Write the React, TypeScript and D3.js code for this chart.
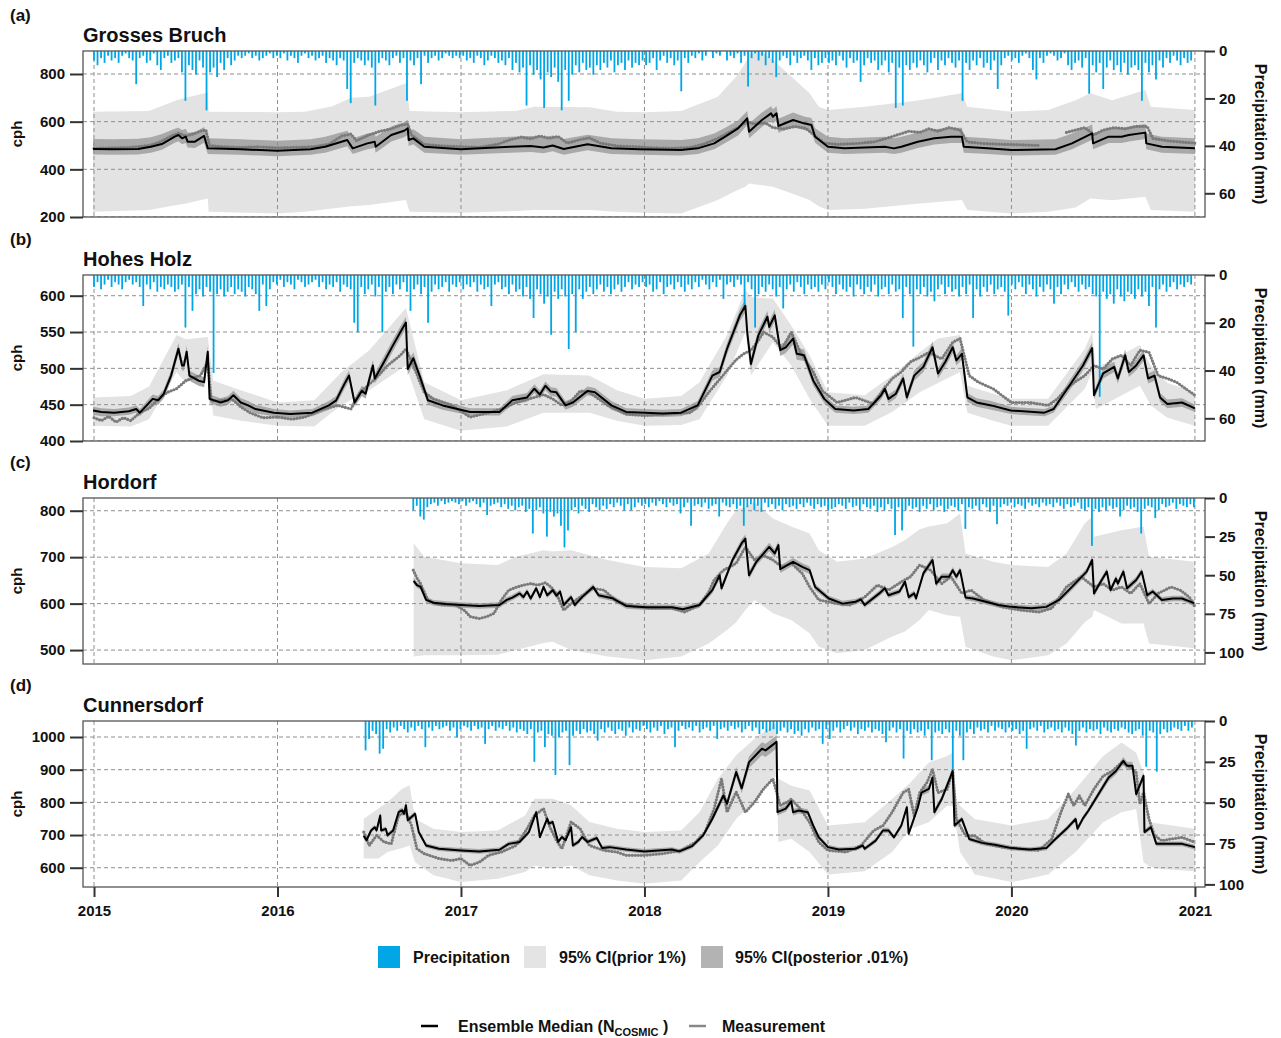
import { useEffect, useRef } from 'react';
import * as d3 from 'd3';

const YEARS = [2015, 2016, 2017, 2018, 2019, 2020, 2021];
const RAIN_STEP = 7 / 365.25; // one precipitation bar per week

// ---------- (a) Grosses Bruch ----------
const gbRainStart = 2015.0;
const gbRain = [
  4, 6, 3, 5, 2, 4, 3, 5, 2, 1, 3, 4, 14,
  3, 2, 5, 4, 1, 6, 8, 3, 2, 5, 4, 3, 9,
  21, 6, 8, 10, 4, 7, 25, 9, 7, 11, 5, 8, 3,
  6, 4, 2, 3, 2, 1, 3, 2, 4, 3, 2, 1, 3,
  2, 3, 1, 4, 2, 3, 5, 2, 1, 3, 2, 4, 3,
  2, 5, 3, 4, 6, 3, 4, 16, 22, 5, 3, 4, 6,
  4, 7, 23, 5, 3, 4, 6, 3, 2, 5, 3, 21, 4,
  6, 3, 14, 2, 5, 3, 2, 4, 3, 1, 2, 3, 2,
  3, 2, 4, 3, 5, 2, 3, 6, 4, 2, 3, 5, 4,
  6, 3, 8, 5, 9, 7, 23, 6, 10, 8, 12, 24, 9,
  11, 7, 13, 25, 8, 21, 10, 6, 9, 5, 8, 7, 10,
  6, 8, 5, 7, 4, 9, 6, 5, 8, 4, 7, 5, 6,
  4, 6, 5, 3, 8, 4, 2, 5, 3, 6, 4, 17, 3,
  5, 2, 3, 1, 4, 2, 0, 3, 1, 2, 0, 4, 2,
  3, 1, 5, 2, 15, 3, 1, 4, 2, 6, 3, 5, 11,
  4, 2, 3, 6, 2, 5, 3, 2, 4, 8, 3, 6, 5,
  3, 5, 4, 6, 2, 4, 7, 3, 5, 4, 13, 6, 3,
  5, 4, 8, 6, 4, 9, 5, 24, 7, 23, 6, 8, 5,
  7, 4, 6, 9, 5, 3, 8, 4, 6, 3, 5, 7, 4,
  21, 5, 8, 4, 6, 3, 7, 5, 8, 4, 16, 6, 3,
  2, 4, 3, 5, 2, 1, 3, 8, 12, 3, 5, 2, 1,
  2, 4, 3, 1, 6, 8, 5, 4, 7, 3, 18, 6, 9,
  5, 16, 7, 4, 8, 6, 9, 5, 10, 7, 6, 8, 21,
  5, 9, 6, 12, 4, 7, 3, 5, 2, 4, 6, 3, 5,
  4,
];
// [year, lower, upper] of the prior 95% CI
const gbPrior = [
  [2014.995, 222, 642], [2015.3, 229, 645], [2015.45, 250, 690], [2015.5, 257, 700],
  [2015.62, 278, 722], [2015.625, 222, 642], [2016.0, 215, 640], [2016.15, 222, 642],
  [2016.3, 236, 665], [2016.4, 245, 700], [2016.5, 250, 705], [2016.7, 271, 761],
  [2016.72, 222, 645], [2017.0, 218, 640], [2017.3, 225, 645], [2017.4, 229, 663],
  [2017.7, 229, 660], [2017.85, 222, 642], [2018.0, 218, 640], [2018.2, 215, 645],
  [2018.4, 271, 705], [2018.5, 310, 789], [2018.55, 327, 845], [2018.57, 341, 880],
  [2018.62, 335, 900], [2018.7, 327, 860], [2018.8, 300, 789], [2018.9, 271, 719],
  [2018.95, 245, 663], [2019.0, 229, 649], [2019.2, 235, 663], [2019.5, 257, 690],
  [2019.73, 271, 719], [2019.76, 229, 663], [2020.0, 215, 642], [2020.2, 222, 649],
  [2020.35, 240, 690], [2020.43, 278, 719], [2020.55, 270, 690], [2020.73, 285, 733],
  [2020.76, 229, 663], [2021.0, 222, 649],
];
// [year, posterior lower, ensemble median, posterior upper]
const gbEnsemble = [
  [2014.995, 462, 485, 527], [2015.1, 461, 484, 526], [2015.24, 462, 485, 528],
  [2015.31, 470, 495, 535], [2015.37, 482, 506, 548], [2015.44, 512, 537, 570],
  [2015.46, 518, 544, 575], [2015.48, 505, 530, 565], [2015.5, 510, 537, 570],
  [2015.51, 492, 516, 555], [2015.55, 490, 516, 556], [2015.6, 512, 540, 578],
  [2015.62, 464, 488, 530], [2015.8, 461, 484, 526], [2016.0, 455, 478, 520],
  [2016.18, 461, 484, 526], [2016.26, 470, 495, 537], [2016.38, 497, 523, 562],
  [2016.41, 464, 488, 530], [2016.49, 484, 509, 550], [2016.53, 490, 516, 555],
  [2016.535, 470, 495, 537], [2016.62, 517, 544, 580], [2016.69, 535, 562, 598],
  [2016.71, 545, 572, 608], [2016.715, 498, 523, 562], [2016.74, 505, 530, 568],
  [2016.8, 470, 495, 537], [2017.0, 461, 484, 526], [2017.27, 470, 495, 537],
  [2017.38, 473, 498, 540], [2017.45, 468, 492, 535], [2017.5, 476, 500, 542],
  [2017.56, 461, 485, 527], [2017.69, 480, 505, 545], [2017.82, 464, 488, 530],
  [2017.97, 461, 484, 526], [2018.2, 458, 481, 523], [2018.29, 464, 488, 530],
  [2018.38, 484, 509, 550], [2018.44, 510, 537, 575], [2018.51, 542, 572, 605],
  [2018.56, 585, 614, 645], [2018.57, 530, 558, 592], [2018.64, 578, 607, 638],
  [2018.69, 605, 635, 665], [2018.7, 592, 621, 652], [2018.72, 605, 635, 665],
  [2018.73, 554, 582, 612], [2018.81, 578, 607, 638], [2018.87, 565, 593, 622],
  [2018.91, 558, 586, 615], [2018.93, 512, 537, 572], [2019.0, 470, 495, 537],
  [2019.09, 464, 488, 530], [2019.31, 470, 495, 537], [2019.36, 464, 488, 530],
  [2019.4, 470, 495, 537], [2019.49, 490, 516, 555], [2019.58, 504, 530, 568],
  [2019.67, 511, 537, 575], [2019.73, 511, 537, 575], [2019.74, 470, 495, 537],
  [2019.87, 464, 488, 530], [2020.0, 458, 481, 523], [2020.24, 461, 484, 526],
  [2020.33, 484, 509, 550], [2020.44, 524, 551, 588], [2020.445, 484, 509, 550],
  [2020.53, 511, 537, 575], [2020.6, 511, 537, 575], [2020.64, 517, 544, 580],
  [2020.73, 527, 554, 590], [2020.735, 484, 509, 550], [2020.82, 470, 495, 537],
  [2021.0, 464, 488, 530],
];
const gbMeasured = [
  [2015.0, 488], [2015.1, 490], [2015.2, 492], [2015.3, 500], [2015.36, 515], [2015.42, 540],
  [2015.46, 552], [2015.5, 540], [2015.54, 548], [2015.58, 560], [2015.61, 565], [2015.63, 500],
  [2015.7, 495], [2015.8, 492], [2015.9, 494], [2016.0, 490], [2016.1, 492], [2016.2, 495],
  [2016.28, 505], [2016.35, 540], [2016.4, 548], [2016.43, 520], [2016.5, 545], [2016.56, 560],
  [2016.62, 570], [2016.67, 585], [2016.71, 590], [2016.73, 545], [2016.8, 505], [2016.9, 498],
  [2017.0, 495], [2017.1, 492], [2017.2, 505], [2017.27, 525], [2017.33, 535], [2017.38, 528],
  [2017.43, 540], [2017.48, 530], [2017.53, 538], [2017.58, 510], [2017.65, 525], [2017.7, 532],
  [2017.76, 510], [2017.85, 498], [2017.95, 495], [2018.05, 490], [2018.15, 488], [2018.25, 492],
  [2018.32, 505], [2018.4, 530], [2018.46, 555], [2018.52, 580], [2018.56, 600], [2018.6, 590],
  [2018.66, 595], [2018.7, 575], [2018.76, 570], [2018.82, 580], [2018.88, 572], [2018.93, 540],
  [2018.98, 510], [2019.05, 505], [2019.15, 508], [2019.25, 515], [2019.32, 530], [2019.38, 545],
  [2019.44, 560], [2019.5, 555], [2019.55, 570], [2019.6, 560], [2019.66, 575], [2019.72, 565],
  [2019.76, 515], [2019.85, 508], [2019.95, 505], [2020.05, 503], [2020.15, 500], [2020.22, null],
  [2020.3, 555], [2020.35, 565], [2020.4, 575], [2020.45, 545], [2020.5, 565], [2020.56, 575],
  [2020.62, 570], [2020.68, 580], [2020.74, 580], [2020.77, 530], [2020.85, 520], [2020.92, 515],
  [2021.0, 510],
];

// ---------- (b) Hohes Holz ----------
const hhRainStart = 2015.0;
const hhRain = [
  5, 3, 6, 4, 2, 5, 3, 4, 6, 3, 2, 4, 3,
  5, 13, 4, 6, 3, 7, 5, 6, 4, 5, 7, 6, 4,
  22, 5, 15, 8, 6, 9, 5, 7, 41, 8, 6, 9, 7,
  5, 8, 6, 7, 9, 5, 6, 8, 15, 4, 13, 6, 3,
  4, 2, 5, 3, 4, 6, 2, 3, 5, 4, 3, 2, 5,
  3, 6, 4, 5, 3, 7, 4, 5, 6, 20, 24, 5, 8,
  6, 4, 9, 5, 24, 7, 5, 8, 4, 6, 3, 7, 15,
  6, 4, 8, 5, 20, 7, 4, 6, 5, 3, 7, 4, 5,
  3, 6, 4, 5, 3, 7, 4, 6, 5, 13, 4, 3, 6,
  5, 8, 4, 7, 6, 9, 5, 10, 18, 6, 8, 12, 9,
  25, 7, 10, 6, 9, 31, 8, 24, 6, 10, 7, 5, 8,
  6, 4, 7, 5, 8, 6, 4, 7, 5, 3, 6, 4, 5,
  3, 5, 4, 7, 6, 3, 8, 5, 4, 6, 3, 5, 7,
  4, 6, 3, 5, 2, 4, 6, 3, 5, 2, 10, 4, 3,
  5, 2, 4, 14, 3, 6, 22, 8, 5, 7, 4, 6, 9,
  5, 14, 6, 4, 7, 3, 5, 8, 4, 6, 5, 7, 4,
  6, 3, 5, 8, 4, 6, 7, 5, 9, 4, 6, 8, 5,
  7, 4, 9, 6, 5, 8, 4, 7, 6, 18, 5, 8, 30,
  6, 8, 5, 9, 7, 11, 6, 4, 8, 5, 7, 6, 9,
  5, 8, 4, 18, 6, 9, 5, 7, 4, 8, 6, 5, 7,
  17, 4, 6, 3, 5, 8, 4, 6, 9, 5, 7, 4, 6,
  12, 5, 8, 4, 6, 3, 5, 7, 4, 6, 5, 8, 9,
  51, 7, 10, 8, 12, 6, 9, 11, 7, 8, 10, 6, 9,
  7, 13, 5, 22, 6, 4, 7, 5, 3, 6, 4, 5, 3,
  4,
];
const hhPrior = [
  [2014.995, 421, 460], [2015.2, 420, 462], [2015.3, 430, 475], [2015.45, 495, 546],
  [2015.5, 480, 540], [2015.62, 495, 543], [2015.65, 435, 483], [2015.8, 428, 470],
  [2016.0, 421, 453], [2016.2, 420, 456], [2016.35, 450, 495], [2016.5, 470, 525],
  [2016.7, 504, 583], [2016.8, 430, 481], [2017.0, 414, 456], [2017.25, 420, 470],
  [2017.45, 439, 492], [2017.7, 439, 490], [2017.85, 428, 470], [2018.0, 421, 458],
  [2018.2, 422, 462], [2018.3, 430, 481], [2018.45, 490, 546], [2018.55, 550, 608],
  [2018.58, 490, 598], [2018.7, 536, 596], [2018.8, 504, 559], [2018.9, 458, 518],
  [2019.0, 421, 467], [2019.2, 421, 463], [2019.35, 440, 490], [2019.5, 467, 522],
  [2019.6, 480, 541], [2019.72, 495, 546], [2019.76, 439, 476], [2019.9, 428, 465],
  [2020.0, 421, 458], [2020.2, 421, 458], [2020.4, 472, 527], [2020.44, 495, 550],
  [2020.46, 444, 500], [2020.7, 476, 532], [2020.76, 449, 504], [2020.85, 432, 480],
  [2021.0, 421, 467],
];
const hhEnsemble = [
  [2014.995, 436, 442, 447], [2015.04, 434, 440, 445], [2015.11, 434, 439, 444],
  [2015.19, 436, 441, 446], [2015.23, 439, 444, 449], [2015.25, 434, 439, 444],
  [2015.32, 452, 458, 464], [2015.35, 450, 456, 462], [2015.38, 459, 465, 471],
  [2015.42, 483, 490, 497], [2015.46, 519, 527, 535], [2015.48, 497, 504, 511],
  [2015.49, 497, 504, 511], [2015.505, 515, 523, 531], [2015.52, 483, 490, 497],
  [2015.57, 476, 483, 490], [2015.6, 474, 481, 488], [2015.62, 515, 523, 531],
  [2015.63, 452, 458, 464], [2015.69, 447, 453, 459], [2015.73, 450, 456, 462],
  [2015.76, 457, 463, 469], [2015.8, 447, 453, 459], [2015.84, 443, 449, 455],
  [2015.88, 438, 444, 450], [2015.98, 434, 439, 444], [2016.07, 432, 437, 442],
  [2016.19, 434, 439, 444], [2016.28, 443, 449, 455], [2016.32, 450, 456, 462],
  [2016.37, 474, 481, 488], [2016.39, 483, 490, 497], [2016.42, 447, 453, 459],
  [2016.46, 462, 469, 476], [2016.48, 458, 465, 472], [2016.52, 496, 504, 512],
  [2016.53, 479, 486, 493], [2016.57, 496, 504, 512], [2016.63, 524, 532, 540],
  [2016.67, 542, 550, 558], [2016.7, 555, 563, 571], [2016.71, 491, 499, 507],
  [2016.74, 506, 514, 522], [2016.78, 479, 486, 493], [2016.82, 450, 456, 462],
  [2016.9, 443, 449, 455], [2017.05, 435, 440, 445], [2017.21, 435, 440, 445],
  [2017.28, 450, 456, 462], [2017.36, 454, 460, 466], [2017.4, 466, 472, 478],
  [2017.43, 458, 464, 470], [2017.46, 470, 476, 482], [2017.49, 462, 468, 474],
  [2017.52, 461, 467, 473], [2017.57, 443, 449, 455], [2017.61, 447, 453, 459],
  [2017.69, 463, 469, 475], [2017.73, 461, 467, 473], [2017.82, 443, 449, 455],
  [2017.9, 435, 440, 445], [2018.1, 433, 438, 443], [2018.2, 434, 439, 444],
  [2018.29, 443, 449, 455], [2018.37, 483, 490, 497], [2018.41, 488, 495, 502],
  [2018.45, 519, 527, 535], [2018.52, 565, 573, 581], [2018.55, 577, 586, 595],
  [2018.56, 542, 550, 558], [2018.58, 498, 506, 514], [2018.62, 537, 545, 553],
  [2018.67, 563, 571, 579], [2018.68, 549, 557, 565], [2018.71, 565, 573, 581],
  [2018.74, 517, 525, 533], [2018.77, 521, 529, 537], [2018.81, 533, 541, 549],
  [2018.83, 512, 520, 528], [2018.87, 510, 518, 526], [2018.92, 476, 483, 490],
  [2018.98, 452, 458, 464], [2019.04, 439, 444, 449], [2019.14, 437, 442, 447],
  [2019.22, 439, 444, 449], [2019.29, 457, 463, 469], [2019.31, 466, 472, 478],
  [2019.33, 452, 458, 464], [2019.37, 459, 465, 471], [2019.41, 479, 486, 493],
  [2019.43, 454, 460, 466], [2019.47, 483, 490, 497], [2019.52, 495, 502, 509],
  [2019.57, 521, 529, 537], [2019.6, 486, 493, 500], [2019.64, 502, 509, 516],
  [2019.68, 521, 529, 537], [2019.7, 504, 511, 518], [2019.73, 512, 520, 528],
  [2019.76, 454, 460, 466], [2019.81, 447, 453, 459], [2019.89, 443, 449, 455],
  [2019.996, 437, 442, 447], [2020.18, 434, 439, 444], [2020.23, 439, 444, 449],
  [2020.31, 467, 474, 481], [2020.39, 497, 504, 511], [2020.44, 520, 528, 536],
  [2020.45, 457, 463, 469], [2020.5, 486, 493, 500], [2020.56, 495, 502, 509],
  [2020.58, 479, 486, 493], [2020.62, 510, 518, 526], [2020.64, 488, 495, 502],
  [2020.68, 497, 504, 511], [2020.72, 510, 518, 526], [2020.745, 479, 486, 493],
  [2020.78, 483, 490, 497], [2020.81, 454, 460, 466], [2020.85, 445, 451, 457],
  [2020.93, 447, 453, 459], [2021.0, 440, 445, 450],
];
const hhMeasured = [
  [2015.0, 432], [2015.04, 428], [2015.08, 434], [2015.12, 426], [2015.16, 432], [2015.2, 428],
  [2015.25, 439], [2015.3, 445], [2015.36, 460], [2015.4, 467], [2015.45, 472], [2015.5, 483],
  [2015.55, 488], [2015.58, 490], [2015.62, 509], [2015.64, 455], [2015.7, 456], [2015.75, 458],
  [2015.8, 447], [2015.85, 439], [2015.92, 432], [2016.0, 433], [2016.08, 430], [2016.15, 433],
  [2016.25, 444], [2016.33, 449], [2016.4, 444], [2016.45, 467], [2016.5, 478], [2016.55, 490],
  [2016.6, 504], [2016.67, 518], [2016.7, 527], [2016.74, 504], [2016.8, 467], [2016.85, 458],
  [2016.95, 449], [2017.05, 433], [2017.15, 439], [2017.23, 445], [2017.3, 453], [2017.4, 460],
  [2017.45, 464], [2017.5, 458], [2017.55, 449], [2017.6, 455], [2017.65, 469], [2017.7, 467],
  [2017.8, 449], [2017.9, 437], [2018.0, 435], [2018.12, 437], [2018.25, 439], [2018.3, 450],
  [2018.35, 467], [2018.4, 482], [2018.45, 497], [2018.5, 512], [2018.54, 520], [2018.58, 525],
  [2018.62, 538], [2018.65, 550], [2018.7, 543], [2018.75, 527], [2018.8, 550], [2018.85, 522],
  [2018.92, 495], [2018.97, 469], [2019.05, 453], [2019.15, 460], [2019.25, 451], [2019.3, 470],
  [2019.35, 486], [2019.4, 495], [2019.45, 509], [2019.5, 515], [2019.55, 522], [2019.62, 513],
  [2019.68, 536], [2019.72, 541], [2019.77, 490], [2019.82, 481], [2019.9, 472], [2020.0, 453],
  [2020.1, 453], [2020.2, 449], [2020.25, 458], [2020.3, 472], [2020.35, 482], [2020.4, 490],
  [2020.45, 504], [2020.5, 499], [2020.55, 513], [2020.6, 518], [2020.65, 504], [2020.7, 525],
  [2020.75, 522], [2020.8, 490], [2020.85, 486], [2020.9, 481], [2020.95, 472], [2021.0, 463],
];

// ---------- (c) Hordorf ----------
const hoRainStart = 2016.74;
const hoRain = [
  8, 5, 12, 14, 6, 4, 3, 5, 2, 4, 3, 2, 3,
  4, 2, 5, 3, 2, 4, 6, 3, 11, 5, 4, 3, 6,
  4, 7, 5, 8, 6, 5, 9, 7, 23, 8, 6, 10, 25,
  9, 12, 10, 18, 32, 21, 8, 6, 10, 5, 7, 9, 4,
  6, 8, 5, 7, 4, 6, 3, 5, 8, 4, 8, 6, 3,
  5, 4, 6, 3, 5, 2, 4, 6, 3, 5, 4, 10, 6,
  3, 18, 5, 4, 6, 3, 7, 5, 4, 12, 3, 5, 6,
  4, 7, 5, 18, 6, 4, 8, 5, 9, 3, 6, 4, 7,
  5, 8, 4, 6, 5, 7, 4, 6, 3, 5, 7, 4, 6,
  5, 8, 7, 6, 4, 5, 7, 3, 6, 5, 8, 4, 6,
  7, 5, 9, 6, 8, 4, 7, 24, 6, 21, 8, 5, 7,
  6, 9, 5, 7, 4, 8, 6, 5, 9, 7, 5, 6, 8,
  4, 20, 6, 7, 5, 8, 4, 6, 9, 5, 17, 6, 4,
  5, 3, 6, 4, 5, 7, 3, 5, 4, 6, 3, 5, 4,
  6, 3, 5, 7, 4, 6, 5, 3, 7, 8, 6, 31, 7,
  9, 6, 8, 5, 7, 6, 12, 8, 5, 7, 6, 9, 23,
  7, 5, 6, 13, 8, 4, 6, 5, 3, 7, 4, 5, 6,
  4, 6,
];
const hoPrior = [
  [2016.742, 486, 730], [2016.8, 489, 701], [2017.0, 489, 687], [2017.2, 490, 683],
  [2017.3, 500, 701], [2017.45, 515, 715], [2017.5, 518, 712], [2017.6, 500, 715],
  [2017.8, 486, 694], [2018.0, 478, 679], [2018.2, 486, 676], [2018.35, 514, 708],
  [2018.45, 543, 773], [2018.5, 560, 801], [2018.55, 586, 809], [2018.6, 608, 819],
  [2018.7, 579, 783], [2018.8, 565, 766], [2018.9, 536, 751], [2018.95, 507, 715],
  [2019.05, 493, 690], [2019.2, 500, 697], [2019.35, 529, 722], [2019.42, 540, 737],
  [2019.5, 565, 760], [2019.55, 586, 766], [2019.65, 575, 773], [2019.72, 572, 794],
  [2019.75, 507, 708], [2019.9, 486, 690], [2020.0, 478, 683], [2020.2, 489, 679],
  [2020.3, 514, 708], [2020.4, 560, 773], [2020.44, 572, 787], [2020.45, 586, 744],
  [2020.6, 557, 758], [2020.72, 557, 766], [2020.75, 514, 701], [2021.0, 504, 690],
];
const hoEnsemble = [
  [2016.742, 642, 649, 656], [2016.76, 634, 640, 646], [2016.78, 630, 636, 642],
  [2016.81, 602, 608, 614], [2016.85, 596, 602, 608], [2016.92, 593, 599, 605],
  [2017.0, 591, 597, 603], [2017.1, 589, 595, 601], [2017.21, 591, 597, 603],
  [2017.25, 602, 608, 614], [2017.28, 607, 613, 619], [2017.32, 616, 622, 628],
  [2017.34, 608, 614, 620], [2017.36, 620, 626, 632], [2017.38, 605, 611, 617],
  [2017.41, 627, 633, 639], [2017.43, 608, 614, 620], [2017.45, 630, 636, 642],
  [2017.47, 612, 618, 624], [2017.5, 623, 629, 635], [2017.52, 611, 617, 623],
  [2017.54, 620, 626, 632], [2017.56, 591, 597, 603], [2017.6, 608, 614, 620],
  [2017.62, 591, 597, 603], [2017.66, 608, 614, 620], [2017.72, 630, 636, 642],
  [2017.75, 612, 618, 624], [2017.83, 605, 611, 617], [2017.9, 589, 595, 601],
  [2018.01, 586, 592, 598], [2018.15, 586, 592, 598], [2018.21, 582, 588, 594],
  [2018.3, 591, 597, 603], [2018.37, 622, 629, 636], [2018.41, 653, 661, 669],
  [2018.42, 626, 633, 640], [2018.48, 686, 694, 702], [2018.53, 721, 730, 739],
  [2018.55, 731, 740, 749], [2018.57, 653, 661, 669], [2018.61, 682, 690, 698],
  [2018.68, 713, 722, 731], [2018.71, 699, 708, 717], [2018.73, 717, 726, 735],
  [2018.74, 666, 674, 682], [2018.81, 682, 690, 698], [2018.86, 671, 679, 687],
  [2018.9, 664, 672, 680], [2018.93, 629, 636, 643], [2019.005, 605, 611, 617],
  [2019.08, 594, 600, 606], [2019.15, 598, 604, 610], [2019.18, 603, 609, 615],
  [2019.2, 591, 597, 603], [2019.28, 616, 622, 628], [2019.31, 626, 633, 640],
  [2019.33, 612, 618, 624], [2019.39, 620, 626, 632], [2019.42, 640, 647, 654],
  [2019.44, 608, 614, 620], [2019.47, 616, 622, 628], [2019.48, 605, 611, 617],
  [2019.52, 658, 665, 672], [2019.57, 686, 694, 702], [2019.59, 636, 643, 650],
  [2019.62, 651, 658, 665], [2019.66, 651, 658, 665], [2019.68, 665, 672, 679],
  [2019.7, 651, 658, 665], [2019.72, 665, 672, 679], [2019.75, 607, 613, 619],
  [2019.79, 605, 611, 617], [2019.86, 598, 604, 610], [2019.93, 591, 597, 603],
  [2020.0, 587, 593, 599], [2020.11, 584, 590, 596], [2020.19, 587, 593, 599],
  [2020.26, 602, 608, 614], [2020.33, 629, 636, 643], [2020.41, 662, 669, 676],
  [2020.44, 686, 694, 702], [2020.45, 615, 622, 629], [2020.48, 636, 643, 650],
  [2020.52, 662, 669, 676], [2020.54, 622, 629, 636], [2020.57, 647, 654, 661],
  [2020.58, 636, 643, 650], [2020.61, 662, 669, 676], [2020.63, 626, 633, 640],
  [2020.68, 644, 651, 658], [2020.71, 662, 669, 676], [2020.74, 612, 618, 624],
  [2020.77, 620, 626, 632], [2020.82, 602, 608, 614], [2020.88, 605, 611, 617],
  [2020.93, 605, 611, 617], [2020.996, 595, 601, 607],
];
const hoMeasured = [
  [2016.74, 672], [2016.76, 655], [2016.78, 643], [2016.8, 625], [2016.82, 608], [2016.86, 600],
  [2016.9, 597], [2016.97, 597], [2017.02, 585], [2017.05, 572], [2017.1, 568], [2017.14, 572],
  [2017.18, 579], [2017.22, 608], [2017.26, 629], [2017.3, 635], [2017.34, 640], [2017.38, 643],
  [2017.42, 640], [2017.46, 645], [2017.49, 636], [2017.52, 622], [2017.56, 586], [2017.6, 600],
  [2017.64, 612], [2017.68, 622], [2017.72, 633], [2017.78, 629], [2017.85, 604], [2017.95, 593],
  [2018.05, 590], [2018.15, 590], [2018.22, 582], [2018.3, 597], [2018.35, 625], [2018.38, 651],
  [2018.43, 672], [2018.47, 680], [2018.5, 687], [2018.55, 722], [2018.6, 694], [2018.65, 704],
  [2018.7, 694], [2018.75, 679], [2018.8, 687], [2018.86, 665], [2018.9, 636], [2018.95, 608],
  [2019.05, 600], [2019.12, 597], [2019.2, 614], [2019.27, 640], [2019.33, 629], [2019.4, 647],
  [2019.45, 658], [2019.5, 683], [2019.56, 672], [2019.62, 643], [2019.67, 658], [2019.73, 622],
  [2019.78, 629], [2019.85, 608], [2019.95, 593], [2020.05, 586], [2020.15, 582], [2020.22, 590],
  [2020.3, 636], [2020.38, 658], [2020.45, 636], [2020.5, 643], [2020.55, 629], [2020.6, 636],
  [2020.65, 622], [2020.7, 643], [2020.75, 600], [2020.8, 622], [2020.87, 636], [2020.92, 629],
  [2020.97, 614], [2021.0, 593],
];

// ---------- (d) Cunnersdorf ----------
const cuRainStart = 2016.48;
const cuRain = [
  18, 11, 6, 8, 20, 17, 5, 7, 4, 6, 3, 5, 7,
  4, 6, 3, 5, 16, 4, 6, 3, 5, 4, 3, 6, 4,
  10, 5, 3, 4, 6, 3, 5, 4, 14, 5, 3, 6, 4,
  5, 3, 6, 4, 7, 5, 6, 8, 5, 25, 7, 6, 16,
  8, 9, 33, 10, 7, 6, 27, 9, 6, 8, 5, 7, 6,
  8, 12, 5, 7, 4, 6, 8, 5, 6, 9, 4, 7, 5,
  6, 3, 5, 7, 4, 6, 3, 8, 5, 4, 16, 6, 3,
  5, 4, 6, 3, 7, 5, 4, 6, 3, 11, 5, 4, 6,
  3, 5, 4, 7, 5, 3, 6, 4, 8, 5, 7, 6, 5,
  8, 6, 4, 7, 5, 8, 6, 9, 5, 7, 4, 6, 5,
  14, 5, 11, 6, 4, 7, 5, 3, 6, 4, 8, 5, 6,
  4, 7, 5, 6, 8, 13, 6, 4, 7, 5, 23, 6, 8,
  5, 7, 6, 9, 5, 24, 7, 6, 8, 5, 7, 30, 6,
  9, 24, 7, 5, 8, 4, 6, 5, 7, 3, 6, 4, 5,
  7, 4, 6, 5, 8, 6, 17, 5, 4, 6, 3, 7, 5,
  4, 6, 5, 7, 4, 6, 8, 15, 6, 4, 7, 5, 6,
  5, 8, 4, 6, 7, 5, 6, 4, 5, 7, 8, 6, 5,
  9, 28, 6, 7, 31, 8, 5, 7, 6, 4, 5, 6, 3,
  6, 4,
];
const cuPrior = [
  [2016.47, 628, 750], [2016.55, 628, 781], [2016.6, 648, 801], [2016.68, 660, 842],
  [2016.72, 668, 852], [2016.75, 617, 750], [2016.85, 577, 719], [2017.0, 556, 709],
  [2017.2, 566, 714], [2017.35, 587, 760], [2017.4, 607, 811], [2017.5, 597, 811],
  [2017.6, 607, 791], [2017.7, 577, 740], [2017.85, 561, 719], [2018.0, 551, 709],
  [2018.2, 561, 714], [2018.3, 617, 770], [2018.4, 668, 872], [2018.5, 750, 944],
  [2018.6, 801, 995], [2018.7, 872, 1036], [2018.72, 880, 1046], [2018.73, 679, 872],
  [2018.8, 689, 851], [2018.9, 648, 836], [2019.0, 579, 729], [2019.2, 589, 739],
  [2019.35, 648, 810], [2019.45, 719, 861], [2019.55, 739, 922], [2019.65, 790, 942],
  [2019.68, 790, 952], [2019.7, 719, 810], [2019.72, 648, 790], [2019.8, 579, 749],
  [2020.0, 556, 729], [2020.2, 579, 749], [2020.35, 648, 841], [2020.5, 739, 942],
  [2020.6, 770, 983], [2020.68, 780, 952], [2020.72, 617, 891], [2020.75, 605, 739],
  [2020.8, 597, 735], [2021.0, 589, 719],
];
const cuEnsemble = [
  [2016.47, 690, 697, 704], [2016.485, 677, 684, 691], [2016.51, 707, 714, 721],
  [2016.53, 717, 724, 731], [2016.54, 707, 714, 721], [2016.56, 752, 760, 768],
  [2016.565, 707, 714, 721], [2016.59, 712, 719, 726], [2016.6, 692, 699, 706],
  [2016.63, 707, 714, 721], [2016.66, 762, 770, 778], [2016.68, 768, 776, 784],
  [2016.69, 757, 765, 773], [2016.7, 782, 791, 800], [2016.71, 737, 745, 753],
  [2016.75, 757, 765, 773], [2016.77, 702, 709, 716], [2016.81, 661, 668, 675],
  [2016.88, 651, 658, 665], [2017.0, 646, 653, 660], [2017.1, 643, 650, 657],
  [2017.21, 648, 655, 662], [2017.26, 666, 673, 680], [2017.32, 672, 679, 686],
  [2017.37, 702, 709, 716], [2017.41, 762, 770, 778], [2017.43, 687, 694, 701],
  [2017.47, 742, 750, 758], [2017.48, 728, 735, 742], [2017.5, 733, 740, 747],
  [2017.53, 672, 679, 686], [2017.55, 687, 694, 701], [2017.57, 677, 684, 691],
  [2017.6, 717, 724, 731], [2017.61, 661, 668, 675], [2017.64, 672, 679, 686],
  [2017.66, 687, 694, 701], [2017.69, 672, 679, 686], [2017.74, 684, 691, 698],
  [2017.77, 653, 660, 667], [2017.81, 656, 663, 670], [2017.9, 649, 656, 663],
  [2018.0, 643, 650, 657], [2018.15, 649, 656, 663], [2018.19, 643, 650, 657],
  [2018.26, 659, 666, 673], [2018.32, 691, 699, 707], [2018.37, 740, 750, 760],
  [2018.43, 808, 821, 834], [2018.45, 783, 796, 809], [2018.5, 878, 893, 908],
  [2018.53, 828, 843, 858], [2018.57, 905, 923, 941], [2018.64, 944, 964, 984],
  [2018.66, 939, 959, 979], [2018.72, 965, 985, 1005], [2018.725, 760, 770, 780],
  [2018.77, 771, 781, 791], [2018.8, 793, 803, 813], [2018.81, 760, 770, 780],
  [2018.84, 766, 775, 784], [2018.89, 761, 770, 779], [2018.92, 721, 729, 737],
  [2018.95, 686, 693, 700], [2019.0, 656, 663, 670], [2019.06, 649, 656, 663],
  [2019.15, 651, 658, 665], [2019.19, 661, 668, 675], [2019.2, 651, 658, 665],
  [2019.26, 676, 683, 690], [2019.3, 706, 714, 722], [2019.33, 706, 714, 722],
  [2019.36, 686, 693, 700], [2019.4, 721, 729, 737], [2019.43, 776, 785, 794],
  [2019.44, 696, 704, 712], [2019.49, 776, 785, 794], [2019.51, 820, 830, 840],
  [2019.55, 830, 841, 852], [2019.57, 865, 876, 887], [2019.58, 760, 770, 780],
  [2019.62, 800, 810, 820], [2019.68, 885, 896, 907], [2019.69, 721, 729, 737],
  [2019.73, 741, 749, 757], [2019.77, 681, 688, 695], [2019.84, 669, 676, 683],
  [2019.91, 663, 670, 677], [2020.0, 653, 660, 667], [2020.1, 649, 656, 663],
  [2020.19, 653, 660, 667], [2020.24, 681, 688, 695], [2020.3, 711, 719, 727],
  [2020.35, 741, 749, 757], [2020.36, 711, 719, 727], [2020.39, 743, 751, 759],
  [2020.42, 767, 775, 783], [2020.48, 820, 830, 840], [2020.53, 865, 876, 887],
  [2020.57, 885, 896, 907], [2020.61, 915, 927, 939], [2020.63, 900, 912, 924],
  [2020.66, 900, 912, 924], [2020.68, 815, 825, 835], [2020.72, 870, 881, 892],
  [2020.725, 701, 709, 717], [2020.76, 716, 724, 732], [2020.79, 666, 673, 680],
  [2020.84, 666, 673, 680], [2020.93, 666, 673, 680], [2021.0, 656, 663, 670],
];
const cuMeasured = [
  [2016.47, 709], [2016.5, 668], [2016.54, 699], [2016.58, 679], [2016.62, 673], [2016.66, 760],
  [2016.7, 770], [2016.73, 730], [2016.76, 658], [2016.8, 643], [2016.88, 628], [2016.95, 622],
  [2017.0, 628], [2017.05, 607], [2017.1, 617], [2017.15, 638], [2017.22, 648], [2017.3, 668],
  [2017.36, 719], [2017.4, 760], [2017.45, 781], [2017.48, 730], [2017.52, 684], [2017.55, 658],
  [2017.6, 740], [2017.65, 719], [2017.7, 668], [2017.78, 653], [2017.85, 648], [2017.9, 638],
  [2018.0, 638], [2018.1, 643], [2018.2, 653], [2018.28, 679], [2018.33, 709], [2018.38, 781],
  [2018.42, 872], [2018.45, 770], [2018.5, 832], [2018.55, 770], [2018.6, 801], [2018.65, 842],
  [2018.7, 872], [2018.74, 791], [2018.78, 801], [2018.8, 810], [2018.85, 780], [2018.9, 739],
  [2018.95, 678], [2019.0, 653], [2019.1, 648], [2019.18, 668], [2019.25, 714], [2019.3, 729],
  [2019.35, 770], [2019.38, 800], [2019.41, 830], [2019.44, 840], [2019.47, 759], [2019.5, 830],
  [2019.54, 861], [2019.57, 901], [2019.6, 830], [2019.65, 840], [2019.68, 896], [2019.7, 749],
  [2019.75, 698], [2019.8, 698], [2019.86, 673], [2019.95, 663], [2020.05, 658], [2020.15, 653],
  [2020.22, 688], [2020.27, 770], [2020.31, 825], [2020.34, 790], [2020.37, 820], [2020.4, 790],
  [2020.45, 841], [2020.5, 881], [2020.55, 896], [2020.6, 922], [2020.65, 907], [2020.68, 891],
  [2020.7, 795], [2020.72, 830], [2020.75, 749], [2020.78, 698], [2020.82, 683], [2020.87, 688],
  [2020.93, 693], [2021.0, 678],
];

const PANELS = [
  { tag: '(a)', site: 'Grosses Bruch', top: 51, cph: [200, 896.5], cphTicks: [200, 400, 600, 800],
    rainMax: 70, rainTicks: [0, 20, 40, 60], rainStart: gbRainStart, rain: gbRain,
    prior: gbPrior, ens: gbEnsemble, meas: gbMeasured },
  { tag: '(b)', site: 'Hohes Holz', top: 275, cph: [400, 628.5], cphTicks: [400, 450, 500, 550, 600],
    rainMax: 69.5, rainTicks: [0, 20, 40, 60], rainStart: hhRainStart, rain: hhRain,
    prior: hhPrior, ens: hhEnsemble, meas: hhMeasured },
  { tag: '(c)', site: 'Hordorf', top: 498, cph: [470, 827.4], cphTicks: [500, 600, 700, 800],
    rainMax: 107.5, rainTicks: [0, 25, 50, 75, 100], rainStart: hoRainStart, rain: hoRain,
    prior: hoPrior, ens: hoEnsemble, meas: hoMeasured },
  { tag: '(d)', site: 'Cunnersdorf', top: 721, cph: [541, 1049], cphTicks: [600, 700, 800, 900, 1000],
    rainMax: 101.6, rainTicks: [0, 25, 50, 75, 100], rainStart: cuRainStart, rain: cuRain,
    prior: cuPrior, ens: cuEnsemble, meas: cuMeasured },
];

const FONT = "'Liberation Sans', Arial, Helvetica, sans-serif";
const RAIN_BLUE = '#00a6e6';

export default function App() {
  const svgRef = useRef(null);

  useEffect(() => {
    const svg = d3.select(svgRef.current);
    svg.selectAll('*').remove();
    svg.attr('font-family', FONT).attr('font-weight', 'bold');

    const left = 83;
    const right = 1205;
    const plotH = 166;
    const x = d3.scaleLinear().domain([2014.94, 2021.055]).range([left, right]);

    const styleAxis = (a) => {
      a.select('.domain').remove();
      a.attr('font-family', FONT).attr('font-size', 15).attr('font-weight', 'bold');
      a.selectAll('.tick line').attr('stroke', '#333').attr('stroke-width', 2);
      a.selectAll('.tick text').attr('fill', '#111');
    };

    PANELS.forEach((p, i) => {
      const top = p.top;
      const bottom = top + plotH;
      const y = d3.scaleLinear().domain(p.cph).range([bottom, top]);
      const yRain = d3.scaleLinear().domain([0, p.rainMax]).range([top, bottom]);

      const clipId = `plot-clip-${i}`;
      svg.append('clipPath').attr('id', clipId)
        .append('rect').attr('x', left).attr('y', top).attr('width', right - left).attr('height', plotH);
      const g = svg.append('g').attr('clip-path', `url(#${clipId})`);

      // prior 95% CI
      g.append('path').datum(p.prior).attr('fill', '#e3e3e3')
        .attr('d', d3.area().x(d => x(d[0])).y0(d => y(d[1])).y1(d => y(d[2])));
      // posterior 95% CI
      g.append('path').datum(p.ens).attr('fill', '#a9a9a9')
        .attr('d', d3.area().x(d => x(d[0])).y0(d => y(d[1])).y1(d => y(d[3])));

      // dashed grid
      g.append('g').selectAll('line').data(YEARS).join('line')
        .attr('x1', d => x(d)).attr('x2', d => x(d)).attr('y1', top).attr('y2', bottom)
        .attr('stroke', '#8f8f8f').attr('stroke-width', 1).attr('stroke-dasharray', '4,3');
      g.append('g').selectAll('line').data(p.cphTicks).join('line')
        .attr('x1', left).attr('x2', right).attr('y1', d => y(d)).attr('y2', d => y(d))
        .attr('stroke', '#8f8f8f').attr('stroke-width', 1).attr('stroke-dasharray', '4,3');

      // precipitation hanging from the top
      g.append('g').selectAll('rect').data(p.rain).join('rect')
        .attr('x', (d, k) => x(p.rainStart + k * RAIN_STEP) - 0.9)
        .attr('y', yRain(0))
        .attr('width', 1.8)
        .attr('height', d => yRain(d) - yRain(0))
        .attr('fill', RAIN_BLUE);

      // measurement as grey dots
      g.append('path').datum(p.meas)
        .attr('fill', 'none').attr('stroke', '#7a7a7a').attr('stroke-width', 3.2)
        .attr('stroke-linecap', 'round').attr('stroke-dasharray', '0 3')
        .attr('d', d3.line().defined(d => d[1] != null).x(d => x(d[0])).y(d => y(d[1])));

      // ensemble median
      g.append('path').datum(p.ens)
        .attr('fill', 'none').attr('stroke', '#000').attr('stroke-width', 2)
        .attr('stroke-linejoin', 'round')
        .attr('d', d3.line().x(d => x(d[0])).y(d => y(d[2])));

      // frame
      svg.append('rect').attr('x', left).attr('y', top).attr('width', right - left).attr('height', plotH)
        .attr('fill', 'none').attr('stroke', '#555').attr('stroke-width', 1.3);

      const leftAxis = svg.append('g').attr('transform', `translate(${left},0)`)
        .call(d3.axisLeft(y).tickValues(p.cphTicks).tickSize(13).tickPadding(5).tickFormat(d3.format('d')));
      styleAxis(leftAxis);
      const rightAxis = svg.append('g').attr('transform', `translate(${right},0)`)
        .call(d3.axisRight(yRain).tickValues(p.rainTicks).tickSize(10).tickPadding(4).tickFormat(d3.format('d')));
      styleAxis(rightAxis);

      if (i === PANELS.length - 1) {
        const bottomAxis = svg.append('g').attr('transform', `translate(0,${bottom})`)
          .call(d3.axisBottom(x).tickValues(YEARS).tickSize(10).tickPadding(8).tickFormat(d3.format('d')));
        styleAxis(bottomAxis);
      }

      svg.append('text').attr('x', 10).attr('y', top - 30).attr('font-size', 17).attr('fill', '#111').text(p.tag);
      svg.append('text').attr('x', left).attr('y', top - 9).attr('font-size', 20).attr('fill', '#111').text(p.site);
      svg.append('text').attr('transform', `translate(22,${top + plotH / 2}) rotate(-90)`)
        .attr('text-anchor', 'middle').attr('font-size', 15).attr('fill', '#111').text('cph');
      svg.append('text').attr('transform', `translate(1255,${top + plotH / 2}) rotate(90)`)
        .attr('text-anchor', 'middle').attr('font-size', 16).attr('fill', '#111').text('Precipitation (mm)');
    });

    // legend
    const lg = svg.append('g').attr('font-size', 16).attr('fill', '#111');
    const boxes = [
      { x: 378, fill: RAIN_BLUE, label: 'Precipitation', tx: 413 },
      { x: 524, fill: '#e4e4e4', label: '95% CI(prior 1%)', tx: 559 },
      { x: 701, fill: '#b3b3b3', label: '95% CI(posterior .01%)', tx: 735 },
    ];
    boxes.forEach(b => {
      lg.append('rect').attr('x', b.x).attr('y', 946).attr('width', 22).attr('height', 22).attr('fill', b.fill);
      lg.append('text').attr('x', b.tx).attr('y', 963).text(b.label);
    });
    lg.append('line').attr('x1', 421).attr('x2', 438).attr('y1', 1026).attr('y2', 1026)
      .attr('stroke', '#000').attr('stroke-width', 2.5);
    const med = lg.append('text').attr('x', 458).attr('y', 1032);
    med.append('tspan').text('Ensemble Median (N');
    med.append('tspan').attr('font-size', 11).attr('dy', 4).text('COSMIC');
    med.append('tspan').attr('dy', -4).text(' )');
    lg.append('line').attr('x1', 689).attr('x2', 706).attr('y1', 1026).attr('y2', 1026)
      .attr('stroke', '#888').attr('stroke-width', 2.5);
    lg.append('text').attr('x', 722).attr('y', 1032).text('Measurement');
  }, []);

  return (
    <svg
      ref={svgRef}
      width={1281}
      height={1038}
      style={{ position: 'absolute', left: 0, top: 0, display: 'block', background: '#fff' }}
    />
  );
}
